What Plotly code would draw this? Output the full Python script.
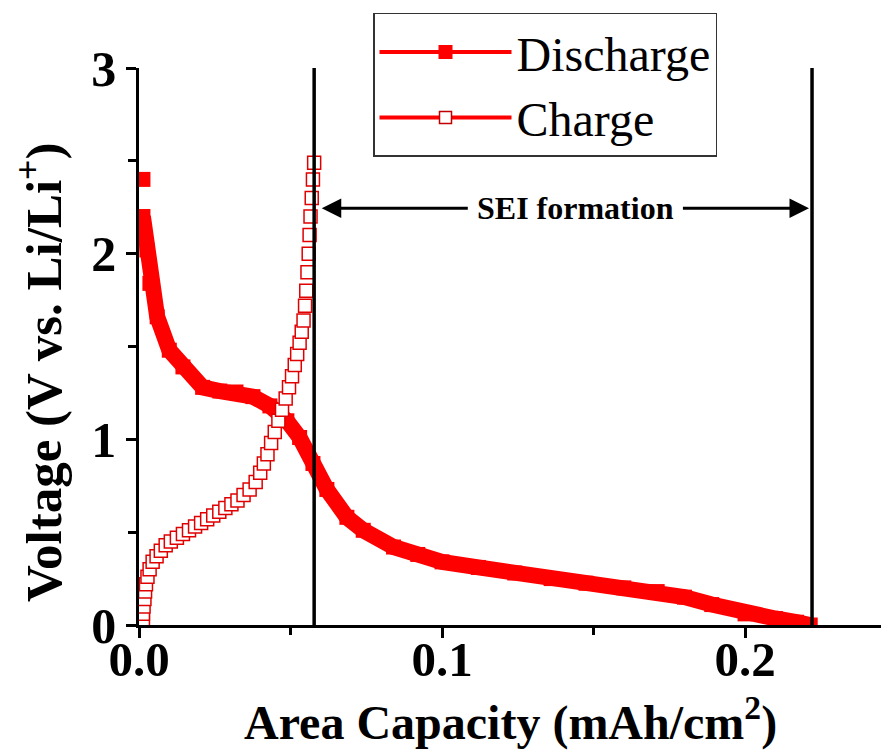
import plotly.graph_objects as go

# ---------------- data ----------------
discharge_x = [0.0013, None, 0.0013, 0.0026, 0.0036, 0.0060, 0.0100, 0.0145, 0.0210, 0.0267,
               0.0320, 0.0376, 0.0432, 0.0488, 0.0530, 0.0574, 0.0620, 0.0686, 0.0740,
               0.0840, 0.0920, 0.1000, 0.1120, 0.1240, 0.1360, 0.1475, 0.1600, 0.1710,
               0.1800, 0.1890, 0.2000, 0.2100, 0.2170, 0.2215]
discharge_v = [2.40, None, 2.20, 2.02, 1.84, 1.66, 1.48, 1.39, 1.28, 1.26,
               1.255, 1.23, 1.18, 1.10, 1.01, 0.87, 0.73, 0.58, 0.51,
               0.42, 0.38, 0.34, 0.31, 0.28, 0.25, 0.225, 0.20, 0.18,
               0.15, 0.11, 0.06, 0.035, 0.015, 0.0]

charge_x = [0.0013, 0.0013, 0.0015, 0.0018, 0.0020, 0.0023, 0.0028, 0.0035, 0.0045, 0.0058,
            0.0072, 0.0088, 0.0105, 0.0125, 0.0145, 0.0165, 0.0185, 0.0205, 0.0225, 0.0245,
            0.0265, 0.0285, 0.0305, 0.0325, 0.0345, 0.0365, 0.0385, 0.0400, 0.0412, 0.0424,
            0.0436, 0.0448, 0.0460, 0.0472, 0.0484, 0.0495, 0.0505, 0.0514, 0.0522, 0.0530,
            0.0537, 0.0543, 0.0548, 0.0552, 0.0556, 0.0560, 0.0563, 0.0566, 0.0570, 0.0574,
            0.0578]
charge_v = [0.02, 0.06, 0.10, 0.14, 0.18, 0.22, 0.26, 0.30, 0.34, 0.37,
            0.40, 0.43, 0.45, 0.47, 0.49, 0.51, 0.53, 0.55, 0.57, 0.59,
            0.61, 0.63, 0.65, 0.67, 0.70, 0.73, 0.77, 0.82, 0.87, 0.92,
            0.98, 1.04, 1.10, 1.16, 1.22, 1.28, 1.34, 1.40, 1.46, 1.52,
            1.58, 1.64, 1.72, 1.80, 1.90, 2.00, 2.10, 2.20, 2.30, 2.40,
            2.49]

sei_start = 0.0578
sei_end = 0.2221
x_tickvals = [0.0, 0.1, 0.2]
x_ticktext = ["0.0", "0.1", "0.2"]
y_tickvals = [0, 1, 2, 3]
y_ticktext = ["0", "1", "2", "3"]

RED = "#ff0000"
FONT = "Liberation Serif"

fig = go.Figure()

# discharge band (filled squares)
fig.add_trace(go.Scatter(
    x=discharge_x, y=discharge_v, mode="lines+markers",
    line=dict(color=RED, width=16), connectgaps=False,
    marker=dict(symbol="square", size=15, color=RED),
    showlegend=False, cliponaxis=True))

# charge (open squares)
fig.add_trace(go.Scatter(
    x=charge_x, y=charge_v, mode="markers",
    marker=dict(symbol="square", size=13, color="white",
                line=dict(color="#e00000", width=1.5)),
    showlegend=False, cliponaxis=True))

# legend entries
fig.add_trace(go.Scatter(
    x=[None], y=[None], mode="lines+markers", name="Discharge",
    line=dict(color=RED, width=4),
    marker=dict(symbol="square", size=14, color=RED)))
fig.add_trace(go.Scatter(
    x=[None], y=[None], mode="lines+markers", name="Charge",
    line=dict(color=RED, width=4),
    marker=dict(symbol="square", size=12, color="white",
                line=dict(color="#c00000", width=1.5))))

# vertical boundary lines
for xv in (sei_start, sei_end):
    fig.add_shape(type="line", xref="x", yref="y", x0=xv, x1=xv, y0=0, y1=3.02,
                  line=dict(color="black", width=3.5))

# SEI formation annotation with arrows
arrow_y = 2.245
fig.add_annotation(x=0.1439, y=arrow_y, xref="x", yref="y", text="<b>SEI formation</b>",
                   showarrow=False, font=dict(family=FONT, size=32, color="black"))
fig.add_annotation(x=sei_start + 0.0025, y=arrow_y, ax=0.1090, ay=arrow_y,
                   xref="x", yref="y", axref="x", ayref="y", text="",
                   showarrow=True, arrowhead=2, arrowsize=1.3, arrowwidth=3, arrowcolor="black")
fig.add_annotation(x=sei_end - 0.0010, y=arrow_y, ax=0.1790, ay=arrow_y,
                   xref="x", yref="y", axref="x", ayref="y", text="",
                   showarrow=True, arrowhead=2, arrowsize=1.3, arrowwidth=3, arrowcolor="black")

# axis titles
fig.add_annotation(x=0.4947, y=-0.170, xref="paper", yref="paper",
                   xanchor="center", yanchor="middle", showarrow=False,
                   text="<b>Area Capacity (mAh/cm<sup>2</sup>)</b>",
                   font=dict(family=FONT, size=48, color="black"))
fig.add_annotation(x=-0.132, y=0.454, xref="paper", yref="paper",
                   xanchor="center", yanchor="middle", showarrow=False, textangle=-90,
                   text="<b>Voltage (V vs. Li/Li<sup>+</sup>)</b>",
                   font=dict(family=FONT, size=51, color="black"))

fig.update_layout(
    width=881, height=744,
    margin=dict(l=131, r=0, t=60, b=127),
    paper_bgcolor="white", plot_bgcolor="white",
    font=dict(family=FONT, color="black"),
    legend=dict(x=0.312, y=1.099, xanchor="left", yanchor="top",
                bgcolor="white", bordercolor="#333333", borderwidth=1.5,
                font=dict(family=FONT, size=48, color="black"),
                itemwidth=132, tracegroupgap=0),
    xaxis=dict(range=[0, 0.2475], showgrid=False, zeroline=False, automargin=False,
               showline=True, linecolor="black", linewidth=2.5,
               ticks="outside", ticklen=10, tickwidth=2.5, tickcolor="black",
               tickvals=x_tickvals, ticktext=x_ticktext, ticklabelstandoff=-21,
               tickfont=dict(family=FONT, size=49, color="black", weight="bold"),
               minor=dict(dtick=0.05, ticks="outside", ticklen=7, tickwidth=2.5, tickcolor="black")),
    yaxis=dict(range=[0, 3], showgrid=False, zeroline=False, automargin=False,
               showline=True, linecolor="black", linewidth=2.5,
               ticks="outside", ticklen=10, tickwidth=2.5, tickcolor="black",
               tickvals=y_tickvals, ticktext=y_ticktext,
               tickfont=dict(family=FONT, size=50, color="black", weight="bold"),
               minor=dict(dtick=0.5, ticks="outside", ticklen=8, tickwidth=2.5, tickcolor="black")),
)

fig.write_html("out.html")
